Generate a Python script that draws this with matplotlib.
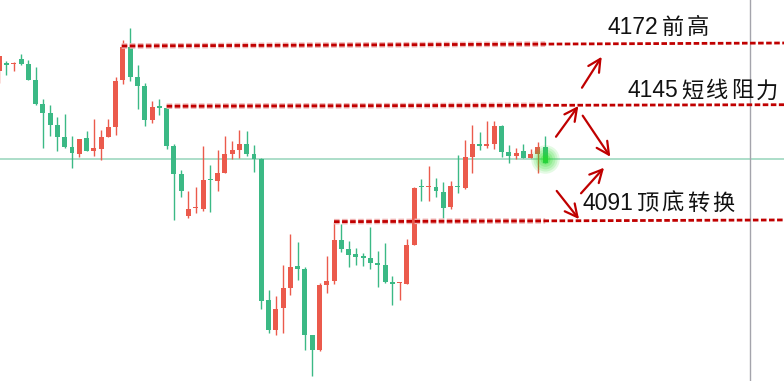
import numpy as np
import matplotlib
matplotlib.use("Agg")
import matplotlib.pyplot as plt

plt.rcParams['font.family'] = ['Noto Sans CJK SC', 'DejaVu Sans']
plt.rcParams['lines.scale_dashes'] = False

# candle data (price units)
opens = [4159.9, 4163.3, 4163.1, 4165.5, 4163.1, 4155.7, 4144.5, 4140.3, 4134.8, 4129.2,
         4124.5, 4121.3, 4128.7, 4122.7, 4123.6, 4129.2, 4133.8, 4155.7, 4171.0, 4157.1,
         4152.9, 4137.1, 4143.3, 4142.7, 4125.0, 4112.0, 4092.4, 4096.0, 4095.7, 4109.4,
         4108.7, 4112.4, 4121.3, 4123.1, 4125.9, 4121.3, 4118.9, 4053.4, 4039.4, 4049.6,
         4059.0, 4069.2, 4067.8, 4037.1, 4030.1, 4060.3, 4062.2, 4081.3, 4077.1, 4074.8,
         4073.8, 4072.9, 4070.6, 4069.6, 4061.7, 4061.1, 4060.8, 4078.9, 4106.1, 4105.7,
         4105.9, 4103.6, 4096.6, 4106.1, 4105.5, 4119.9, 4125.9, 4125.0, 4125.9, 4134.3,
         4122.2, 4120.3, 4122.7, 4119.4, 4121.3, 4124.5]
highs = [4166.9, 4164.5, 4164.2, 4167.9, 4165.0, 4161.7, 4146.9, 4144.1, 4138.5, 4139.9,
         4129.6, 4128.3, 4132.0, 4137.6, 4132.4, 4137.6, 4157.1, 4174.3, 4179.9, 4162.7,
         4154.3, 4145.9, 4146.9, 4142.7, 4125.9, 4113.8, 4104.1, 4105.9, 4125.0, 4116.2,
         4123.1, 4129.6, 4127.3, 4132.4, 4132.0, 4125.5, 4119.4, 4058.0, 4055.2, 4069.6,
         4084.1, 4080.3, 4068.7, 4037.1, 4061.3, 4073.8, 4089.6, 4088.7, 4080.8, 4077.6,
         4075.2, 4087.3, 4076.2, 4079.9, 4064.5, 4061.7, 4081.7, 4105.9, 4109.6, 4115.7,
         4110.1, 4108.3, 4108.7, 4120.8, 4127.8, 4134.8, 4131.5, 4136.6, 4136.6, 4134.8,
         4125.5, 4124.1, 4125.9, 4123.6, 4126.9, 4129.6]
lows = [4154.4, 4158.0, 4159.9, 4162.7, 4155.7, 4144.1, 4124.1, 4129.6, 4122.7, 4124.1,
        4114.8, 4119.9, 4122.7, 4120.3, 4118.5, 4129.2, 4130.1, 4153.8, 4155.2, 4142.2,
        4134.3, 4135.7, 4139.4, 4123.6, 4090.6, 4101.3, 4091.5, 4093.8, 4094.8, 4094.3,
        4104.1, 4112.4, 4118.9, 4119.4, 4120.3, 4112.9, 4049.2, 4038.0, 4037.1, 4038.0,
        4055.7, 4062.7, 4030.1, 4018.0, 4029.6, 4056.6, 4060.8, 4075.7, 4068.7, 4069.6,
        4069.2, 4067.8, 4059.4, 4061.3, 4051.0, 4053.4, 4060.8, 4078.9, 4099.4, 4099.4,
        4101.3, 4091.5, 4095.7, 4103.1, 4105.0, 4112.4, 4123.1, 4124.1, 4123.6, 4119.9,
        4117.1, 4118.9, 4119.4, 4119.4, 4112.4, 4117.1]
closes = [4166.9, 4162.9, 4163.5, 4163.1, 4155.7, 4144.5, 4140.3, 4134.8, 4129.2, 4124.5,
          4121.7, 4128.3, 4122.7, 4124.1, 4129.2, 4133.8, 4155.2, 4171.0, 4157.1, 4152.9,
          4137.1, 4143.1, 4142.9, 4125.0, 4112.0, 4104.1, 4095.7, 4096.4, 4109.2, 4109.0,
          4112.4, 4121.3, 4123.1, 4125.9, 4121.3, 4118.9, 4052.9, 4039.4, 4049.2, 4059.0,
          4068.7, 4067.8, 4037.1, 4030.1, 4060.3, 4062.2, 4081.3, 4077.1, 4074.3, 4073.4,
          4072.9, 4070.6, 4069.6, 4061.7, 4060.8, 4061.5, 4078.9, 4105.5, 4105.7, 4106.1,
          4104.1, 4096.2, 4106.4, 4105.7, 4119.9, 4125.9, 4125.0, 4125.9, 4134.3, 4122.2,
          4120.3, 4121.7, 4119.4, 4121.3, 4124.5, 4117.1]

# key levels: start index, start price, end price
level_labels = ['4172', '4145', '4091']
level_names = ['前高', '短线阻力', '顶底转换']
level_start = [16.83, 23.0, 45.99]
level_y0 = [4171.5, 4143.5, 4089.8]
level_y1 = [4172.9, 4144.2, 4090.6]
label_x = [83.62, 86.24, 80.15]
label_y = [4177.1, 4147.6, 4095.2]

# arrows (from -> to)
arrow_from = [(80.05, 4152.1), (76.48, 4129.3), (80.15, 4139.1), (79.92, 4103.0), (76.58, 4104.1)]
arrow_to = [(82.76, 4166.5), (79.55, 4143.6), (83.94, 4120.0), (83.08, 4114.9), (79.64, 4091.0)]

last_price = 4118.9
cursor_x = 103.1

RED = '#eb5a4c'
GREEN = '#3bb985'
LINE_RED = '#c00000'

fig = plt.figure(figsize=(7.84, 3.81), dpi=100)
ax = fig.add_axes([0, 0, 1, 1])
ax.axis('off')
x_right = 107.8
ax.set_xlim(0.11, x_right)
ax.set_ylim(4015.7, 4192.9)

# current price line and cursor
ax.axhline(last_price, color='#9ed8c0', lw=1.2, zorder=1)
ax.axvline(cursor_x, color='#a4a4ac', lw=1.0, zorder=1)

# candles
o = np.array(opens)
c = np.array(closes)
idx = np.arange(len(o))
colors = [RED if cc >= oo else GREEN for oo, cc in zip(o, c)]
ax.vlines(idx, lows, highs, colors=colors, lw=1.0, zorder=2)
bottom = np.minimum(o, c)
height = np.maximum(np.abs(c - o), 0.7)
ax.bar(idx, height, bottom=bottom, width=0.68, color=colors, zorder=2)

# glow on the last candle
for s, a in [(420, 0.12), (300, 0.14), (200, 0.16), (110, 0.2), (50, 0.3), (15, 0.4)]:
    ax.scatter(idx[-1], last_price, s=s, color='#22dd22', alpha=a, lw=0, zorder=4)

# dashed level lines
dash = (0, (4.0, 1.8))
for x0, y0, y1 in zip(level_start, level_y0, level_y1):
    ax.plot([x0, 75], [y0, y0 + (y1 - y0) * (75 - x0) / (x_right - x0)],
            color='#f0b4b4', lw=4.0, ls=dash, zorder=3)
    ax.plot([x0, x_right], [y0, y1], color=LINE_RED, lw=2.0, ls=dash, zorder=3)

# arrows
for (xa, ya), (xb, yb) in zip(arrow_from, arrow_to):
    ax.annotate('', xy=(xb, yb), xytext=(xa, ya),
                arrowprops=dict(arrowstyle='->,head_length=0.75,head_width=0.38',
                                color=LINE_RED, lw=1.6, mutation_scale=12,
                                shrinkA=0, shrinkB=0),
                zorder=5)

# labels: digits then spaced chinese characters
for lab, name, lx, ly in zip(level_labels, level_names, label_x, label_y):
    ax.text(lx, ly, lab, fontsize=16.5, color='#111111', ha='left', va='baseline',
            family=['Liberation Sans', 'DejaVu Sans'], zorder=6)
    for k, ch in enumerate(name):
        ax.annotate(ch, xy=(lx, ly), xytext=((54 + k * 25) * 0.72, 0),
                    textcoords='offset points', fontsize=16, color='#111111',
                    ha='left', va='baseline', zorder=6)

fig.savefig('out.png', dpi=100)
